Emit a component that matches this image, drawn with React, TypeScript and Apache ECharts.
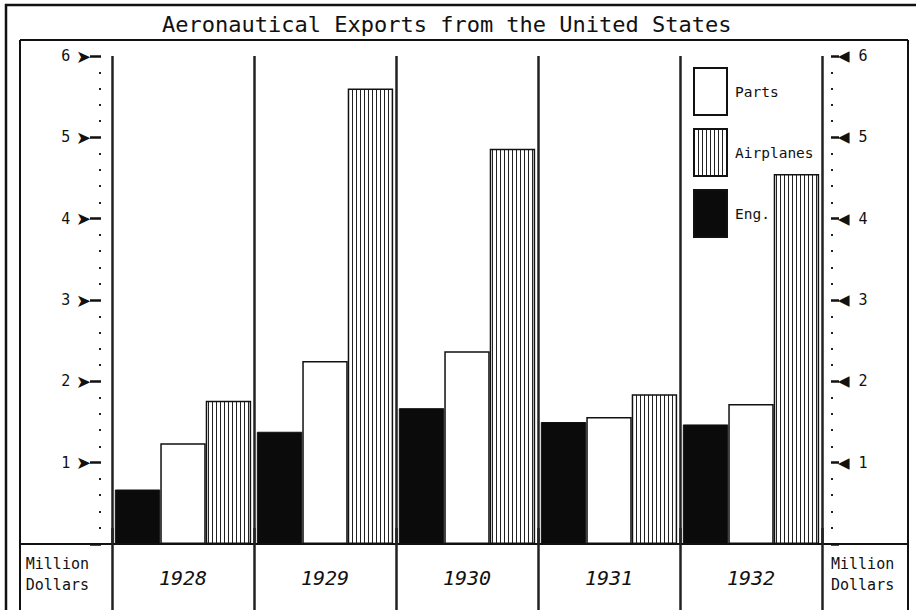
import React, { useEffect, useRef } from 'react';
import * as echarts from 'echarts';

const TITLE = 'Aeronautical Exports from the United States';
const years = ['1928', '1929', '1930', '1931', '1932'];
const engines = [0.67, 1.38, 1.67, 1.5, 1.47];
const parts = [1.24, 2.25, 2.37, 1.56, 1.72];
const airplanes = [1.76, 5.6, 4.86, 1.84, 4.55];
const legendOrder = ['Parts', 'Airplanes', 'Eng.'];
const unitName = 'Million\nDollars';

const FONT = '"DejaVu Sans Mono", "DejaVu Sans", monospace';
const SANS = '"DejaVu Sans", sans-serif';
const INK = '#111';

function makeHatch(): HTMLCanvasElement {
  const c = document.createElement('canvas');
  c.width = 4;
  c.height = 4;
  const g = c.getContext('2d')!;
  g.fillStyle = '#ffffff';
  g.fillRect(0, 0, 4, 4);
  g.fillStyle = '#222222';
  g.fillRect(0, 0, 1, 4);
  return c;
}

export default function App() {
  const ref = useRef<HTMLDivElement>(null);
  useEffect(() => {
    if (!ref.current) return;
    const chart = echarts.init(ref.current, undefined, { renderer: 'svg' });
    const hatch = { image: makeHatch(), repeat: 'repeat' };
    const barBase = {
      type: 'bar',
      xAxisIndex: 0,
      yAxisIndex: 0,
      barGap: '0%',
      barCategoryGap: '4%',
    };
    const richLabels = {
      n: { fontFamily: FONT, fontSize: 15, color: INK, verticalAlign: 'middle' },
      a: { fontFamily: SANS, fontSize: 18, color: INK, verticalAlign: 'middle' },
      b: { fontFamily: SANS, fontSize: 15, color: INK, verticalAlign: 'middle' },
    };
    chart.setOption({
      animation: false,
      backgroundColor: '#ffffff',
      title: {
        text: TITLE,
        left: 162,
        top: 13,
        padding: 0,
        textStyle: { fontFamily: FONT, fontSize: 22, fontWeight: 'normal', color: INK },
      },
      legend: {
        data: legendOrder,
        orient: 'vertical',
        left: 693,
        top: 67,
        padding: 0,
        itemWidth: 33,
        itemHeight: 47,
        itemGap: 12,
        icon: 'rect',
        selectedMode: false,
        textStyle: { fontFamily: FONT, fontSize: 14.5, color: INK, padding: [0, 0, 0, 3] },
      },
      grid: { left: 112, right: 94, top: 56, bottom: 66, containLabel: false },
      xAxis: [
        {
          type: 'category',
          data: years,
          position: 'bottom',
          axisLine: { show: true, lineStyle: { color: INK, width: 2 } },
          axisTick: { show: true, length: 66, lineStyle: { color: '#222', width: 2.5 } },
          splitLine: { show: true, lineStyle: { color: '#222', width: 2.5 } },
          axisLabel: {
            interval: 0,
            margin: 34,
            verticalAlign: 'middle',
            fontFamily: FONT,
            fontStyle: 'italic',
            fontSize: 20,
            color: INK,
          },
        },
        {
          type: 'category',
          data: years,
          position: 'top',
          axisLine: { show: false },
          axisTick: { show: true, length: 16, lineStyle: { color: '#222', width: 2.5 } },
          axisLabel: { show: false },
          splitLine: { show: false },
        },
      ],
      yAxis: [
        {
          type: 'value',
          min: 0,
          max: 6,
          interval: 1,
          position: 'left',
          offset: 11,
          axisLine: { show: false },
          axisTick: { show: true, length: 11, lineStyle: { color: INK, width: 2.5 } },
          minorTick: { show: true, splitNumber: 5, length: 2, lineStyle: { color: '#222', width: 2 } },
          splitLine: { show: false },
          axisLabel: {
            margin: 10,
            formatter: (v: number) => (v === 0 ? '' : `{n|${v}}{a| ➤}`),
            rich: richLabels,
          },
          name: unitName,
          nameLocation: 'start',
          nameGap: 9,
          nameTextStyle: {
            fontFamily: FONT,
            fontSize: 15,
            lineHeight: 21,
            color: INK,
            align: 'right',
            verticalAlign: 'top',
            padding: [0, 12, 0, 0],
          },
        },
        {
          type: 'value',
          min: 0,
          max: 6,
          interval: 1,
          position: 'right',
          offset: 9,
          axisLine: { show: false },
          axisTick: { show: true, length: 8, lineStyle: { color: INK, width: 2.5 } },
          minorTick: { show: true, splitNumber: 5, length: 2, lineStyle: { color: '#222', width: 2 } },
          splitLine: { show: false },
          axisLabel: {
            margin: 7,
            formatter: (v: number) => (v === 0 ? '' : `{b|◀}{n| ${v}}`),
            rich: richLabels,
          },
          name: unitName,
          nameLocation: 'start',
          nameGap: 9,
          nameTextStyle: {
            fontFamily: FONT,
            fontSize: 15,
            lineHeight: 21,
            color: INK,
            align: 'left',
            verticalAlign: 'top',
            padding: [0, 0, 0, 0],
          },
        },
      ],
      series: [
        { ...barBase, name: 'Eng.', data: engines, itemStyle: { color: '#0b0b0b', borderColor: INK, borderWidth: 1 } },
        { ...barBase, name: 'Parts', data: parts, itemStyle: { color: '#ffffff', borderColor: INK, borderWidth: 1.5 } },
        { ...barBase, name: 'Airplanes', data: airplanes, itemStyle: { color: hatch, borderColor: INK, borderWidth: 1.5 } },
      ],
      graphic: [
        { type: 'rect', silent: true, shape: { x: 6, y: 5, width: 930, height: 640 }, style: { fill: 'none', stroke: INK, lineWidth: 2.5 } },
        { type: 'line', silent: true, shape: { x1: 20, y1: 40, x2: 908, y2: 40 }, style: { stroke: INK, lineWidth: 2 } },
        { type: 'line', silent: true, shape: { x1: 20, y1: 40, x2: 20, y2: 620 }, style: { stroke: INK, lineWidth: 2 } },
        { type: 'line', silent: true, shape: { x1: 908, y1: 40, x2: 908, y2: 620 }, style: { stroke: INK, lineWidth: 2 } },
        { type: 'line', silent: true, shape: { x1: 20, y1: 544, x2: 908, y2: 544 }, style: { stroke: INK, lineWidth: 2 } },
      ],
    });
    return () => chart.dispose();
  }, []);
  return (
    <div
      ref={ref}
      style={{ position: 'absolute', left: 0, top: 0, width: 916, height: 610, background: '#fff' }}
    />
  );
}
